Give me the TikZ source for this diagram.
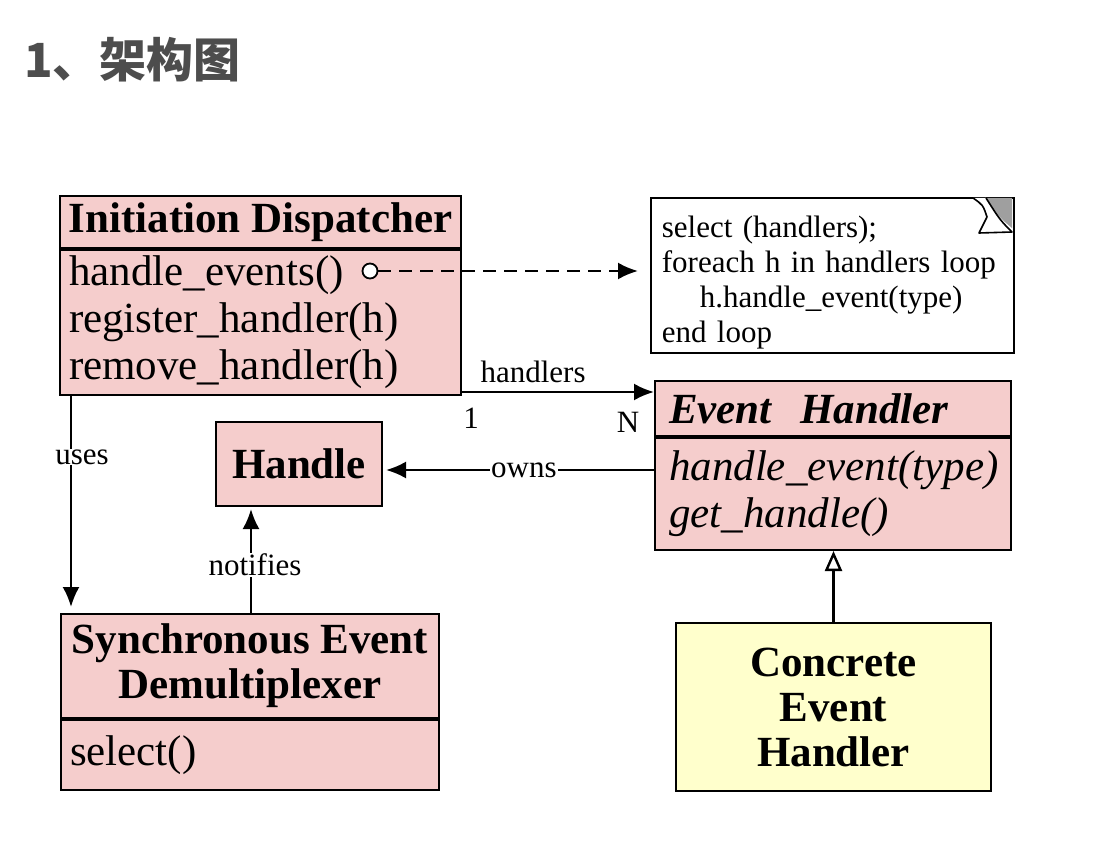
\documentclass[tikz,border=0pt]{standalone}
\usepackage{fontspec}
\setmainfont{Liberation Serif}
\newfontfamily\cjk{Noto Sans CJK SC}
\usetikzlibrary{arrows.meta,positioning}
\definecolor{clspink}{RGB}{245,205,204}
\definecolor{clsyellow}{RGB}{255,255,204}
\definecolor{titlegray}{RGB}{77,77,77}
\tikzset{
  cls/.style={draw,line width=2pt,fill=clspink,inner sep=0pt,anchor=north west},
  big/.style={font=\fontsize{43}{47}\selectfont},
  small/.style={font=\fontsize{31}{35}\selectfont},
  lbl/.style={small,fill=white,inner sep=1pt},
  conn/.style={line width=2.4pt},
  arr/.style={-{Latex[length=20pt,width=17pt]}},
}
\begin{document}
\begin{tikzpicture}[x=1pt,y=-1pt]
  \useasboundingbox[fill=white] (0,0) rectangle (1112,850);
  \node[anchor=base west,inner sep=0pt,text=titlegray,font=\cjk\bfseries\fontsize{47}{52}\selectfont] (title) at (24,78) {1、架构图};
  % Initiation Dispatcher
  \node[cls,big,minimum width=401pt,minimum height=52pt] (disp) at (59,195) {\bfseries Initiation Dispatcher};
  \node[cls,big,minimum width=401pt,minimum height=145pt,text width=383pt,inner xsep=9pt,align=left] (dispops) at (disp.south west) {handle\_events()\\register\_handler(h)\\remove\_handler(h)};
  % note
  \node[draw,line width=1.8pt,fill=white,anchor=north west,small,minimum width=363pt,minimum height=155pt,text width=341pt,inner xsep=11pt,inner ysep=0pt,align=left] (note) at (650,197) {\rule{0pt}{36pt}select (handlers);\\foreach h in handlers loop\\\hspace*{38pt}h.handle\_event(type)\\end loop};
  \fill[gray!75] (985,198) -- (1012,198) -- (1012,228) .. controls (1000,218) .. (985,198);
  \draw[line width=1.6pt,fill=white,line join=round] (973,198) .. controls (983,205) .. (987,217) -- (979,233) -- (1012,232) .. controls (1000,220) .. (986,198);
  % Event Handler
  \node[cls,big,minimum width=356pt,minimum height=55pt,text width=328pt,inner xsep=14pt,align=left] (evh) at (654,380) {\bfseries\itshape Event\ \ Handler};
  \node[cls,big,minimum width=356pt,minimum height=112pt,text width=328pt,inner xsep=14pt,align=left] (evhops) at (evh.south west) {\itshape handle\_event(type)\\\itshape get\_handle()};
  % Handle
  \node[cls,big,minimum width=166pt,minimum height=84pt] (handle) at (215,421) {\bfseries Handle};
  % Synchronous Event Demultiplexer
  \node[cls,big,minimum width=378pt,minimum height=104pt,align=center,font=\fontsize{43}{45}\selectfont\bfseries] (sync) at (60,613) {Synchronous Event\\Demultiplexer};
  \node[cls,big,minimum width=378pt,minimum height=70pt,text width=360pt,inner xsep=9pt,align=left] (syncops) at (sync.south west) {select()};
  % Concrete Event Handler
  \node[cls,fill=clsyellow,minimum width=315pt,minimum height=168pt,align=center,font=\fontsize{43}{45}\selectfont\bfseries] (concrete) at (675,622) {Concrete\\Event\\Handler};
  % connectors
  \node[circle,draw,line width=1.8pt,fill=white,minimum size=15pt,inner sep=0pt] (hcirc) at (370,271) {};
  \draw[conn,dash pattern=on 13pt off 8pt,arr,shorten >=12pt] (hcirc) -- (hcirc -| note.west);
  \coordinate (hstart) at ([yshift=4pt]dispops.south east);
  \draw[conn,arr] (hstart) -- (hstart -| evh.west) node[small,pos=0.37,above=6pt,inner sep=2pt] (lblhandlers) {handlers};
  \node[small] (lblone) at (471,418) {1};
  \node[small] (lbln) at (628,422) {N};
  \coordinate (ownsy) at (0,470);
  \draw[conn,arr,shorten >=3pt] (evhops.west |- ownsy) -- (handle.east |- ownsy) node[lbl,pos=0.48] (lblowns) {owns};
  \coordinate (usesx) at (71,0);
  \draw[conn,arr,shorten >=6pt] (usesx |- dispops.south) -- (usesx |- sync.north);
  \node[lbl] (lbluses) at (82,457) {uses};
  \coordinate (notx) at (251,0);
  \draw[conn,arr,shorten >=2pt] (notx |- sync.north) -- (notx |- handle.south);
  \node[lbl] (lblnotifies) at (255,565) {notifies};
  \draw[conn,-{Triangle[open,length=20pt,width=17pt]}] (concrete.north) -- (concrete.north |- evhops.south);
\end{tikzpicture}
\end{document}
